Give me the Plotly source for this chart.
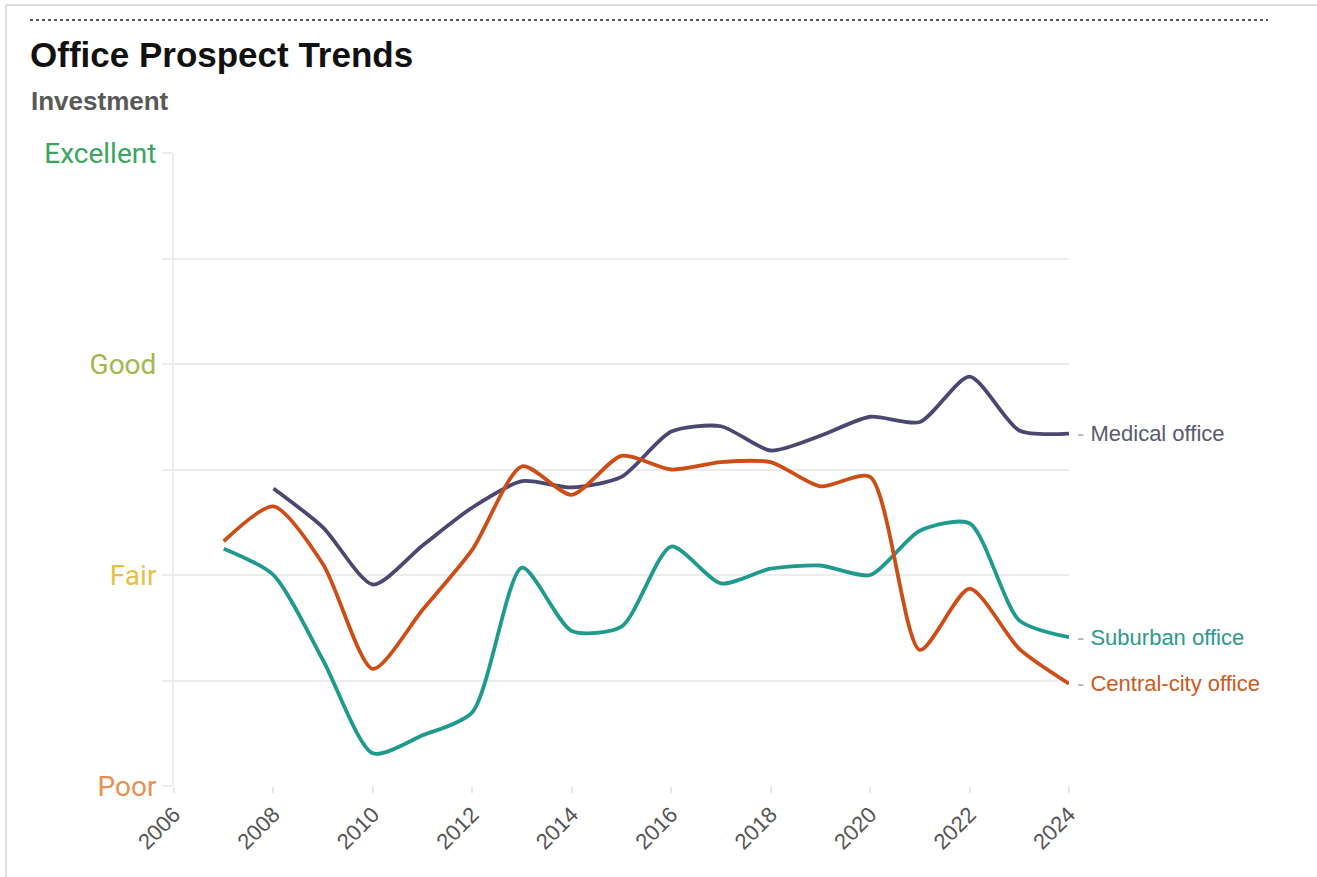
import plotly.graph_objects as go

# Survey years and prospect ratings (1 = abysmal ... 5 = fair ... 9 = excellent)
years_medical = list(range(2008, 2025))
medical_office = [5.82, 5.45, 4.91, 5.28, 5.64, 5.89, 5.83, 5.93, 6.36, 6.41,
                  6.18, 6.32, 6.50, 6.45, 6.88, 6.37, 6.34]

years_city = list(range(2007, 2025))
central_city_office = [5.32, 5.65, 5.10, 4.11, 4.67, 5.24, 6.03, 5.76, 6.13, 6.00,
                       6.07, 6.07, 5.84, 5.93, 4.29, 4.87, 4.30, 3.97]

years_suburban = list(range(2007, 2025))
suburban_office = [5.25, 5.00, 4.19, 3.31, 3.48, 3.70, 5.07, 4.47, 4.51, 5.27,
                   4.92, 5.06, 5.09, 5.00, 5.42, 5.49, 4.57, 4.41]

rating_vals = [3, 4, 5, 6, 7, 8, 9]
rating_text = ["Poor", "", "Fair", "", "Good", "", "Excellent"]
rating_colors = {"Poor": "#e8914f", "Fair": "#e6c13f", "Good": "#a3b84c", "Excellent": "#3ba55e"}
year_ticks = list(range(2006, 2025, 2))

series = [
    ("Medical office", years_medical, medical_office, "#4a4870", "#5b5a6e"),
    ("Suburban office", years_suburban, suburban_office, "#1f9a8d", "#2a9a8c"),
    ("Central-city office", years_city, central_city_office, "#cc4e16", "#cc5a22"),
]

fig = go.Figure()
for name, xs, ys, color, _ in series:
    fig.add_trace(go.Scatter(
        x=xs, y=ys, name=name, mode="lines",
        line=dict(color=color, width=3.8, shape="spline", smoothing=0.7),
        hoverinfo="x+y+name", cliponaxis=False,
    ))

# Page geometry in pixels
W, H = 1317, 877
L, R, T, B = 174, 1069, 153, 786

def px_x(p):
    return (p - L) / (R - L)

def px_y(p):
    return (B - p) / (B - T)

annotations = []
for name, xs, ys, _, label_color in series:
    annotations.append(dict(
        x=xs[-1], y=ys[-1], xref="x", yref="y", xanchor="left", yanchor="middle",
        xshift=6, showarrow=False,
        text=f"<span style='color:#b5b5b5'>-</span> {name}",
        font=dict(family="Liberation Sans, Arial", size=22, color=label_color),
    ))

annotations.append(dict(
    x=px_x(29), y=px_y(101), xref="paper", yref="paper", xanchor="left", yanchor="middle",
    showarrow=False, text="<b>Investment</b>",
    font=dict(family="Liberation Sans, Arial", size=26, color="#595959"),
))
annotations.append(dict(
    x=px_x(28), y=px_y(54), xref="paper", yref="paper", xanchor="left", yanchor="middle",
    showarrow=False, text="<b>Office Prospect Trends</b>",
    font=dict(family="Liberation Sans, Arial", size=35, color="#111111"),
))

shapes = [
    # dotted rule above the title
    dict(type="line", xref="paper", yref="paper", x0=px_x(30), x1=px_x(1268),
         y0=px_y(20), y1=px_y(20), line=dict(color="#555555", width=2, dash="dot")),
    # frame edges
    dict(type="line", xref="paper", yref="paper", x0=px_x(6), x1=px_x(W),
         y0=px_y(5), y1=px_y(5), line=dict(color="#dddddd", width=2)),
    dict(type="line", xref="paper", yref="paper", x0=px_x(6), x1=px_x(6),
         y0=px_y(5), y1=px_y(H), line=dict(color="#dddddd", width=2)),
]

fig.update_layout(
    width=W, height=H,
    margin=dict(l=L, r=W - R, t=T, b=H - B),
    paper_bgcolor="white", plot_bgcolor="white",
    showlegend=False,
    annotations=annotations,
    shapes=shapes,
    xaxis=dict(
        range=[2006, 2024], tickvals=year_ticks, ticktext=[str(y) for y in year_ticks],
        tickangle=-45, showgrid=False, zeroline=False, showline=False,
        ticks="outside", ticklen=6, tickcolor="#e6e6e6", tickwidth=2,
        tickfont=dict(family="Liberation Sans, Arial", size=22, color="#555555"),
    ),
    yaxis=dict(
        range=[3, 9], tickvals=rating_vals,
        ticktext=[f"<span style='color:{rating_colors[t]}'>{t}</span>" if t else "" for t in rating_text],
        showgrid=True, gridcolor="#ececec", gridwidth=2, zeroline=False,
        showline=True, linecolor="#ececec", linewidth=2,
        ticks="outside", ticklen=10, tickcolor="#ececec", tickwidth=2,
        tickfont=dict(family="Roboto", size=28),
    ),
)

fig.write_html("out.html")
